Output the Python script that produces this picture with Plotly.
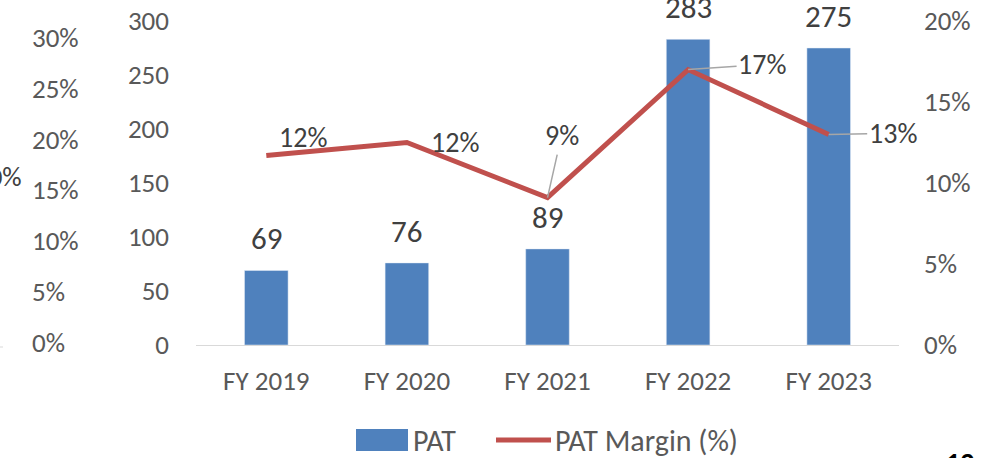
import plotly.graph_objects as go

categories = ["FY 2019", "FY 2020", "FY 2021", "FY 2022", "FY 2023"]
pat = [69, 76, 89, 283, 275]
pat_margin = [0.117, 0.125, 0.091, 0.170, 0.130]
margin_labels = ["12%", "12%", "9%", "17%", "13%"]
left_ticks = [0.0, 0.05, 0.10, 0.15, 0.20, 0.25, 0.30]
left_tick_labels = ["0%", "5%", "10%", "15%", "20%", "25%", "30%"]

FONT = "Carlito, Calibri, Lato, sans-serif"
W, H = 994, 458
L, R, T, B = 196, 95, 21, 113
PW, PH = W - L - R, H - T - B


def px(x):
    return (x - L) / PW


def py(y):
    return (H - B - y) / PH


fig = go.Figure()
fig.add_trace(go.Bar(x=categories, y=pat, name="PAT", marker_color="#4F81BD",
                     width=0.31, showlegend=False, cliponaxis=False))
fig.add_trace(go.Scatter(x=categories, y=pat_margin, name="PAT Margin (%)", mode="lines",
                         line=dict(color="#C0504D", width=5), yaxis="y2", showlegend=False,
                         cliponaxis=False))

ann = []
# bar labels
for c, v in zip(categories, pat):
    ann.append(dict(x=c, y=v, xref="x", yref="y", text=str(v), showarrow=False,
                    yshift=32, font=dict(family=FONT, size=31, color="#404040")))

# line labels: (xshift, yshift) without leader, or (ax, ay) with leader
label_pos = [("shift", 37, 18), ("shift", 48, 0), ("arrow", 14, -62), ("arrow", 74, -5), ("arrow", 64, -1)]
for c, v, t, (kind, a, b) in zip(categories, pat_margin, margin_labels, label_pos):
    d = dict(x=c, y=v, xref="x", yref="y2", text=t,
             font=dict(family=FONT, size=28, color="#404040"))
    if kind == "shift":
        d.update(showarrow=False, xshift=a, yshift=b)
    else:
        d.update(showarrow=True, arrowhead=0, arrowwidth=1.5, arrowcolor="#A6A6A6",
                 ax=a, ay=b, standoff=0)
    ann.append(d)

# fake left axis from neighbouring chart
for v, t in zip(left_ticks, left_tick_labels):
    ann.append(dict(x=px(30), y=v, xref="paper", yref="y3", text=t, showarrow=False,
                    xanchor="left", yanchor="middle",
                    font=dict(family=FONT, size=27, color="#595959")))
ann.append(dict(x=px(24), y=py(176), xref="paper", yref="paper", text="10%", showarrow=False,
                xanchor="right", yanchor="middle", font=dict(family=FONT, size=27, color="#404040")))

# custom legend
ann.append(dict(x=px(411), y=py(440), xref="paper", yref="paper", text="PAT", showarrow=False,
                xanchor="left", yanchor="middle", font=dict(family=FONT, size=30, color="#595959")))
ann.append(dict(x=px(553), y=py(440), xref="paper", yref="paper", text="PAT Margin (%)", showarrow=False,
                xanchor="left", yanchor="middle", font=dict(family=FONT, size=30, color="#595959")))
# page number
ann.append(dict(x=px(944), y=py(443), xref="paper", yref="paper", text="<b>12</b>", showarrow=False,
                xanchor="left", yanchor="top", font=dict(family=FONT, size=28, color="#000000")))

shapes = [
    dict(type="rect", xref="paper", yref="paper", x0=px(356), x1=px(408), y0=py(429), y1=py(451),
         fillcolor="#4F81BD", line=dict(width=0)),
    dict(type="line", xref="paper", yref="paper", x0=px(496), x1=px(551), y0=py(440), y1=py(440),
         line=dict(color="#C0504D", width=5)),
    dict(type="line", xref="paper", yref="paper", x0=px(0), x1=px(3), y0=py(347), y1=py(347),
         line=dict(color="#D9D9D9", width=1)),
]

k = 310 / 0.3
fig.update_layout(
    width=W, height=H, margin=dict(l=L, r=R, t=T, b=B, autoexpand=False),
    paper_bgcolor="white", plot_bgcolor="white",
    font=dict(family=FONT, size=27, color="#595959"),
    showlegend=False, bargap=0.69,
    annotations=ann, shapes=shapes,
    xaxis=dict(range=[-0.5, len(categories) - 0.5], showline=True, linecolor="#D9D9D9", linewidth=1,
               showgrid=False, ticks="",
               tickfont=dict(size=27, color="#595959"), ticklabelstandoff=12, automargin=False),
    yaxis=dict(range=[0, 300], dtick=50, showgrid=False, zeroline=False, showline=False,
               tickfont=dict(size=27, color="#595959"), ticklabelstandoff=26, automargin=False),
    yaxis2=dict(range=[0, 0.2], dtick=0.05, tickformat=".0%", overlaying="y", side="right",
                showgrid=False, zeroline=False, showline=False, automargin=False,
                tickfont=dict(size=27, color="#595959"), ticklabelstandoff=24),
    yaxis3=dict(range=[-3 / k, 0.3 + 17 / k], overlaying="y", visible=False, automargin=False),
)

fig.write_html("out.html", config={"displayModeBar": False},
               post_script="document.body.style.margin='0';document.body.style.overflow='hidden';")
